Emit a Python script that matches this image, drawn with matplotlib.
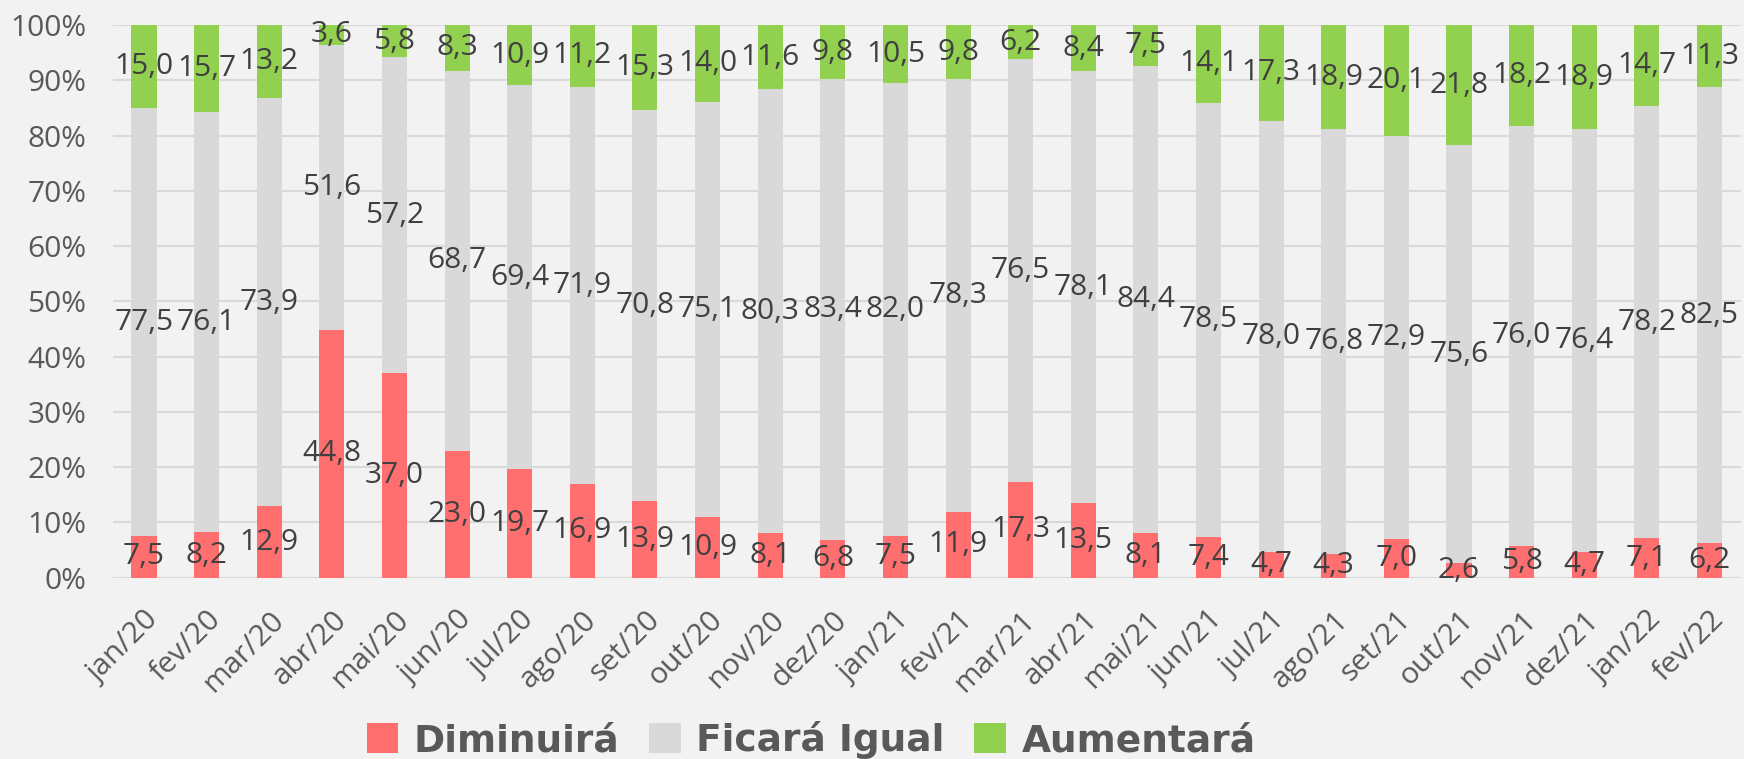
import matplotlib
matplotlib.use("Agg")
import matplotlib.pyplot as plt
from matplotlib.patches import Patch
import numpy as np

months = ["jan/20", "fev/20", "mar/20", "abr/20", "mai/20", "jun/20", "jul/20", "ago/20",
          "set/20", "out/20", "nov/20", "dez/20", "jan/21", "fev/21", "mar/21", "abr/21",
          "mai/21", "jun/21", "jul/21", "ago/21", "set/21", "out/21", "nov/21", "dez/21",
          "jan/22", "fev/22"]
diminuira = [7.5, 8.2, 12.9, 44.8, 37.0, 23.0, 19.7, 16.9, 13.9, 10.9, 8.1, 6.8,
             7.5, 11.9, 17.3, 13.5, 8.1, 7.4, 4.7, 4.3, 7.0, 2.6, 5.8, 4.7,
             7.1, 6.2]
ficara_igual = [77.5, 76.1, 73.9, 51.6, 57.2, 68.7, 69.4, 71.9, 70.8, 75.1, 80.3, 83.4,
                82.0, 78.3, 76.5, 78.1, 84.4, 78.5, 78.0, 76.8, 72.9, 75.6, 76.0, 76.4,
                78.2, 82.5]
aumentara = [15.0, 15.7, 13.2, 3.6, 5.8, 8.3, 10.9, 11.2, 15.3, 14.0, 11.6, 9.8,
             10.5, 9.8, 6.2, 8.4, 7.5, 14.1, 17.3, 18.9, 20.1, 21.8, 18.2, 18.9,
             14.7, 11.3]
series_names = ["Diminuirá", "Ficará Igual", "Aumentará"]
yticks = [0, 10, 20, 30, 40, 50, 60, 70, 80, 90, 100]

colors = ["#FF6F6F", "#D9D9D9", "#92D050"]
bg = "#F2F2F2"
num_font = "Open Sans"

W, H = 1744, 759
fig = plt.figure(figsize=(W / 100, H / 100), dpi=100, facecolor=bg)
ax = fig.add_axes([112.7 / W, 1 - 577.7 / H, (1740.8 - 112.7) / W, (577.7 - 25) / H])
ax.set_facecolor(bg)

x = np.arange(len(months))
series = [diminuira, ficara_igual, aumentara]
bottom = np.zeros(len(months))
for vals, col in zip(series, colors):
    v = np.array(vals)
    ax.bar(x, v, width=0.40, bottom=bottom, color=col, zorder=3, linewidth=0)
    for xi, b, val in zip(x, bottom, v):
        ax.text(xi, b + val / 2, f"{val:.1f}".replace(".", ","), ha="center", va="center",
                fontsize=21.5, color="#404040", family=num_font, zorder=4)
    bottom = bottom + v

ax.set_xlim(-0.5, len(months) - 0.5)
ax.set_ylim(0, 100)
ax.set_yticks(yticks)
ax.set_yticklabels([f"{t}%" for t in yticks], fontsize=21.5, color="#595959", family=num_font)
ax.set_xticks(x)
ax.set_xticklabels(months, rotation=45, ha="right", va="top", rotation_mode="anchor",
                   fontsize=21.5, color="#595959", family=num_font)
ax.tick_params(axis="both", length=0)
ax.tick_params(axis="y", pad=19)
ax.tick_params(axis="x", pad=20)
ax.grid(axis="y", color="#D9D9D9", linewidth=1.5, zorder=0)
ax.set_axisbelow(True)
for s in ax.spines.values():
    s.set_visible(False)

handles = [Patch(facecolor=c, edgecolor="none") for c in colors]
leg = fig.legend(handles, series_names, loc="center", ncol=3,
                 bbox_to_anchor=(811 / W, 1 - 740 / H), frameon=False,
                 prop={"family": "DejaVu Sans", "weight": "bold", "size": 27},
                 handlelength=0.85, handleheight=0.85, handletextpad=0.4,
                 columnspacing=0.8, labelcolor="#595959")

fig.savefig("out.png", dpi=100, facecolor=bg)
